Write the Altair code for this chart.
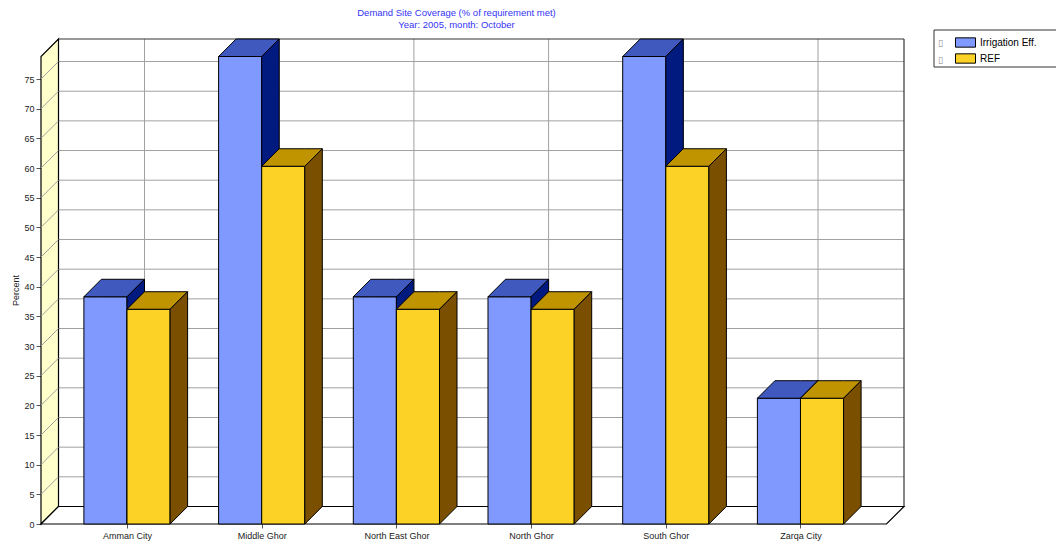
import altair as alt
import pandas as pd

# ---------------- data ----------------
categories = ["Amman City", "Middle Ghor", "North East Ghor", "North Ghor", "South Ghor", "Zarqa City"]
series_names = ["Irrigation Eff.", "REF"]
irrigation_eff = [38.3, 78.8, 38.3, 38.3, 78.8, 21.2]
ref = [36.2, 60.3, 36.2, 36.2, 60.3, 21.2]
y_ticks = list(range(0, 80, 5))
title_lines = ["Demand Site Coverage (% of requirement met)", "Year: 2005,  month: October"]

# ---------------- style ----------------
FONT = "Liberation Sans"
front_colors = ["#8099FF", "#FCD226"]
top_colors = ["#4059BF", "#BF9400"]
side_colors = ["#001A80", "#7A5000"]
WALL_FILL = "#FFFFCC"
GRID = "#A0A0A0"
EDGE_DARK = "#333333"

SLOT_PX = 134.7   # pixels per category slot
PCT_PX = 5.929    # pixels per percentage point
DEPTH_PX = 17.5   # oblique depth of the walls and of each bar
DX = DEPTH_PX / SLOT_PX
DY = DEPTH_PX / PCT_PX
BAR_W = 0.32      # width of one bar, in category slots
EDGE = 0.6385     # floor margin beyond the outer category centres

n = len(categories)
top_val = max(irrigation_eff + ref)
x_lo, x_hi = -EDGE, n - 1 + EDGE
x_dom = [x_lo, x_hi + DX]
y_dom = [0, top_val + DY]
W = round((x_dom[1] - x_dom[0]) * SLOT_PX)
H = round(y_dom[1] * PCT_PX)
PAD_L, PAD_T = 41, 39

xs = alt.Scale(domain=x_dom, nice=False, zero=False)
ys = alt.Scale(domain=y_dom, nice=False, zero=False)

label_expr = "[" + ",".join("'" + c + "'" for c in categories) + "][datum.value]"
x_axis = alt.Axis(values=list(range(n)), labelExpr=label_expr, domain=False, grid=False,
                  tickSize=4, tickColor="#555555", labelPadding=3, labelFont=FONT,
                  labelFontSize=9, labelColor="#222222", title=None)
y_axis = alt.Axis(values=y_ticks, domain=False, grid=False, tickSize=5, tickColor="#555555",
                  labelPadding=2, labelFont=FONT, labelFontSize=9, labelColor="#222222",
                  title="Percent", titleFont=FONT, titleFontSize=9, titleFontWeight="normal",
                  titleColor="#222222", titleAngle=270, titleAlign="center",
                  titleBaseline="middle", titleX=-26, titleY=251)


def X(field):
    return alt.X(field, type="quantitative", scale=xs, axis=x_axis)


def Y(field):
    return alt.Y(field, type="quantitative", scale=ys, axis=y_axis)


# ---------------- chart box: walls, floor, grid ----------------
floor_df = pd.DataFrame({
    "x": [x_lo, x_lo + DX, x_hi, x_hi + DX],
    "lo": [0, 0, 0, DY],
    "hi": [0, DY, DY, DY],
})
wall_df = pd.DataFrame({
    "x": [x_lo, x_lo + DX],
    "lo": [0, DY],
    "hi": [top_val, top_val + DY],
})
grid_k = [k for k in y_ticks if k > 0]
hgrid_df = pd.DataFrame({"x": x_lo + DX, "x2": x_hi + DX, "y": [k + DY for k in grid_k]})
diag_df = pd.DataFrame({"x": x_lo, "x2": x_lo + DX, "y": grid_k, "y2": [k + DY for k in grid_k]})
vgrid_df = pd.DataFrame({"x": [i + DX for i in range(n)], "y": DY, "y2": top_val + DY})
back_top_df = pd.DataFrame({"x": [x_lo + DX], "x2": [x_hi + DX], "y": [top_val + DY]})
back_right_df = pd.DataFrame({"x": [x_hi + DX], "y": [DY], "y2": [top_val + DY]})

hgrid = alt.Chart(hgrid_df).mark_rule(color=GRID, strokeWidth=1).encode(x=X("x"), x2="x2", y=Y("y"))
vgrid = alt.Chart(vgrid_df).mark_rule(color=GRID, strokeWidth=1).encode(x=X("x"), y=Y("y"), y2="y2")
back_top = alt.Chart(back_top_df).mark_rule(color=EDGE_DARK, strokeWidth=1.2).encode(x=X("x"), x2="x2", y=Y("y"))
back_right = alt.Chart(back_right_df).mark_rule(color=EDGE_DARK, strokeWidth=1.2).encode(x=X("x"), y=Y("y"), y2="y2")
wall = alt.Chart(wall_df).mark_area(fill=WALL_FILL, stroke="black", strokeWidth=1.2, opacity=1).encode(
    x=X("x"), y=Y("lo"), y2="hi")
diag = alt.Chart(diag_df).mark_rule(color=GRID, strokeWidth=1).encode(x=X("x"), x2="x2", y=Y("y"), y2="y2")
floor = alt.Chart(floor_df).mark_area(fill="white", stroke="black", strokeWidth=1.2, opacity=1).encode(
    x=X("x"), y=Y("lo"), y2="hi")

# ---------------- 3-D bars ----------------
color_scale = alt.Scale(domain=series_names, range=front_colors)
legend = alt.Legend(orient="none", legendX=917, legendY=-4, title=None,
                    symbolType="M-1.5,-0.7H1.5V0.7H-1.5Z", symbolSize=178,
                    symbolStrokeColor="black", symbolStrokeWidth=1,
                    labelFont=FONT, labelFontSize=10, labelColor="black",
                    labelOffset=7, rowPadding=1, padding=0)

bar_layers = []
for s, (name, vals) in enumerate(zip(series_names, [irrigation_eff, ref])):
    front_rows, top_rows, side_rows = [], [], []
    for i, v in enumerate(vals):
        x0 = i - BAR_W + s * BAR_W
        x1 = x0 + BAR_W
        front_rows.append({"series": name, "x0": x0, "x1": x1, "y0": 0, "v": v})
        top_rows += [
            {"bar": i, "x": x0, "lo": v, "hi": v},
            {"bar": i, "x": x0 + DX, "lo": v, "hi": v + DY},
            {"bar": i, "x": x1, "lo": v, "hi": v + DY},
            {"bar": i, "x": x1 + DX, "lo": v + DY, "hi": v + DY},
        ]
        side_rows += [
            {"bar": i, "x": x1, "lo": 0, "hi": v},
            {"bar": i, "x": x1 + DX, "lo": DY, "hi": v + DY},
        ]
    front = alt.Chart(pd.DataFrame(front_rows)).mark_rect(stroke="black", strokeWidth=1).encode(
        x=X("x0"), x2="x1", y=Y("y0"), y2="v",
        color=alt.Color("series:N", scale=color_scale, legend=legend))
    top = alt.Chart(pd.DataFrame(top_rows)).mark_area(
        fill=top_colors[s], stroke="black", strokeWidth=1, opacity=1).encode(
        x=X("x"), y=Y("lo"), y2="hi", detail="bar:N")
    side = alt.Chart(pd.DataFrame(side_rows)).mark_area(
        fill=side_colors[s], stroke="black", strokeWidth=1, opacity=1).encode(
        x=X("x"), y=Y("lo"), y2="hi", detail="bar:N")
    bar_layers += [front, top, side]

# ---------------- legend frame and markers ----------------
one = pd.DataFrame({"a": [0]})
frame = alt.Chart(one).mark_rect(fill="transparent", stroke="#333333", strokeWidth=1).encode(
    x=alt.value(893), x2=alt.value(1120), y=alt.value(-9), y2=alt.value(28))
markers = alt.Chart(one).mark_text(
    text=["\u25af", "\u25af"], lineHeight=17, font="DejaVu Sans", fontSize=9, color="#888888",
    align="left", baseline="top").encode(x=alt.value(897), y=alt.value(0))

chart = alt.layer(
    hgrid, vgrid, back_top, back_right, wall, diag, floor, *bar_layers, frame, markers
).properties(
    width=W, height=H,
    padding={"left": PAD_L, "top": PAD_T, "right": 1056 - PAD_L - W, "bottom": 545 - PAD_T - H},
    autosize=alt.AutoSizeParams(type="none"),
    title=alt.TitleParams(text=title_lines, font=FONT, fontSize=9.5, fontWeight="normal",
                          color="#3434F5", anchor="middle", dx=-16, offset=0, lineHeight=12),
    background="white",
).configure_view(strokeOpacity=0)

chart.save("out.html", embed_options={"renderer": "svg", "actions": False})
